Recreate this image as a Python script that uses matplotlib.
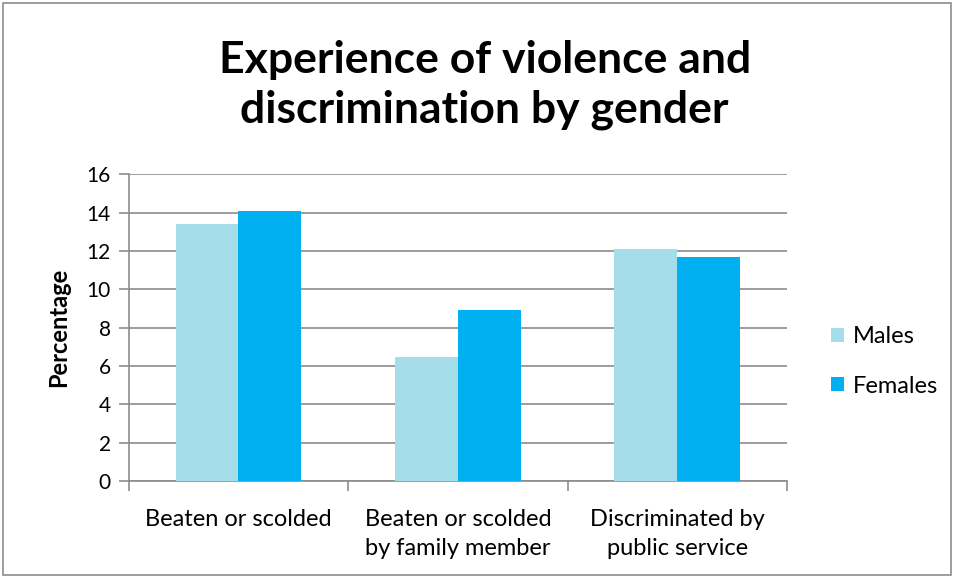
import numpy as np
import matplotlib.pyplot as plt
from matplotlib.patches import Rectangle

categories = ["Beaten or scolded", "Beaten or scolded\nby family member", "Discriminated by\npublic service"]
males = [13.4, 6.5, 12.1]
females = [14.1, 8.9, 11.7]
yticks = [0, 2, 4, 6, 8, 10, 12, 14, 16]

plt.rcParams['font.family'] = ['Lato', 'DejaVu Sans']

fig = plt.figure(figsize=(9.54, 5.77), dpi=100)
ax = fig.add_axes([0.135, 0.166, 0.690, 0.532])

x = np.arange(len(categories))
w = 0.287
ax.bar(x - w / 2, males, w, color='#A5DEEA', label='Males', zorder=3)
ax.bar(x + w / 2, females, w, color='#00B0F0', label='Females', zorder=3)

ax.set_xlim(-0.5, len(categories) - 0.5)
ax.set_ylim(0, 16)
ax.set_yticks(yticks)
ax.yaxis.grid(True, color='#8C8C8C', linewidth=1.2, zorder=0)
ax.set_xticks(x)
ax.set_xticklabels(categories, fontsize=17, linespacing=1.5)
ax.tick_params(axis='x', length=0, pad=20)
# category boundary ticks
ax.set_xticks(np.arange(-0.5, len(categories)), minor=True)
ax.tick_params(axis='x', which='minor', length=7, color='#8C8C8C', width=1.2)
ax.tick_params(axis='y', labelsize=15, length=7, color='#8C8C8C', width=1.2, pad=6)

for s in ['top', 'right']:
    ax.spines[s].set_visible(False)
for s in ['left', 'bottom']:
    ax.spines[s].set_color('#8C8C8C')
    ax.spines[s].set_linewidth(1.2)

ax.set_ylabel('Percentage', fontsize=17, fontweight='bold', labelpad=12)

fig.text(0.508, 0.853, 'Experience of violence and\ndiscrimination by gender', ha='center', va='center',
         fontsize=32, fontweight='bold', linespacing=1.3)

ax.legend(loc='center left', bbox_to_anchor=(1.035, 0.39), frameon=False, fontsize=17,
          handlelength=0.55, handleheight=0.55, handletextpad=0.35, labelspacing=1.2)

fig.patches.append(Rectangle((0.003, 0.003), 0.994, 0.992, transform=fig.transFigure,
                             fill=False, edgecolor='#8C8C8C', linewidth=1.2))

fig.savefig('out.png', dpi=100)
